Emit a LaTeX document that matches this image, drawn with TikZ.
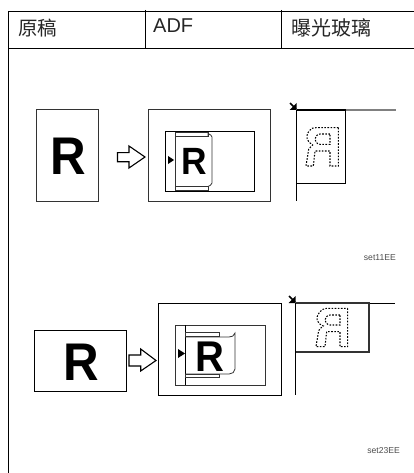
\documentclass[tikz,border=0pt]{standalone}
\usepackage{fontspec}
\setmainfont{Liberation Sans}
\newfontfamily\cjkfont{Noto Sans CJK SC}
\definecolor{linegray}{gray}{0.2}
\tikzset{
  tableline/.style={draw=black,line width=1pt},
  frame/.style={draw=linegray,line width=1pt},
  glass/.style={draw=black,line width=1pt},
  dots/.style={draw=black,line width=1.05pt,dash pattern=on 1.6pt off 1.5pt},
  head/.style={anchor=base west,inner sep=0pt,text=black!85},
  bigR/.style={anchor=base,inner sep=0pt,xscale=0.93,font=\fontsize{53}{53}\selectfont\bfseries},
  code/.style={anchor=base east,inner sep=0pt,text=black!70,font=\fontsize{8.6}{9}\selectfont}
}
\newcommand{\cornerarrow}[2]{%
  \fill[black] (#1-0.5,#2-7) -- (#1-0.5,#2) -- (#1-7.5,#2) -- cycle;
  \draw[black,line width=1.6pt] (#1-7,#2-7) -- (#1-1,#2-1);}
\begin{document}
\begin{tikzpicture}[x=1pt,y=-1pt]
\path[use as bounding box] (0,0) rectangle (414,473);
% table
\draw[tableline] (8,11.5) -- (414,11.5);
\draw[tableline] (8,48.5) -- (414,48.5);
\draw[tableline] (8,11) -- (8,473);
\draw[tableline] (145.5,10) -- (145.5,48.5);
\draw[tableline] (281.5,10) -- (281.5,48.5);
\node[head,font=\fontsize{19.5}{20}\cjkfont\selectfont] (h1) at (18,36) {原稿};
\node[head,font=\fontsize{20}{20}\selectfont] (h2) at (153,32.5) {ADF};
\node[head,font=\fontsize{20}{20}\cjkfont\selectfont] (h3) at (291,36) {曝光玻璃};
% upper row
\draw[frame] (36.5,110) rectangle (98,201.5);
\node[bigR] (r1) at (68,175) {R};
\draw[draw=black,line width=1.1pt,fill=white,line join=miter] (117.5,152.7) -- (129,152.7) -- (129,146) -- (145,157) -- (129,168) -- (129,161.7) -- (117.5,161.7) -- cycle;
\draw[frame] (148,110) rectangle (270,201.5);
\draw[frame,draw=black] (165.5,132) rectangle (254.5,191);
\draw[frame,line width=0.8pt] (175,132.7) rectangle (208,136.7);
\draw[frame,line width=0.8pt] (175,186.5) rectangle (208,190.7);
\draw[frame,line width=0.8pt] (175,132) -- (175,191);
\draw[frame,line width=0.8pt] (208,136.7) -- (208,133.5) .. controls (210,135) and (212,135) .. (212,137) -- (212,183) .. controls (212,185) and (209,186) .. (208,186.5);
\fill[black] (168,156) -- (174,160) -- (168,164) -- cycle;
\node[bigR,font=\fontsize{38}{38}\selectfont\bfseries] (r2) at (194,175) {R};
% upper glass
\draw[glass,line width=1.7pt] (296.5,110) -- (346,110);
\draw[frame,line width=1.7pt,draw=gray] (346,110) -- (396,110);
\draw[glass] (296.5,110) -- (296.5,201);
\draw[glass] (345.5,110) -- (345.5,183.5) -- (296.5,183.5);
\cornerarrow{297}{110}
\begin{scope}[shift={(270,90)},x=0.3333pt,y=-0.3333pt]
\draw[dots] (205,113) -- (205,228) -- (180,228) -- (180,183) -- (135,183) -- (130,228) -- (108,228) -- (116,178) .. controls (122,170) and (125,168) .. (128,165) .. controls (110,155) and (105,140) .. (118,122) .. controls (122,115) and (130,113) .. (138,113) -- cycle;
\draw[dots] (180,132) -- (150,132) .. controls (130,135) and (130,160) .. (150,163) -- (180,163) -- cycle;
\end{scope}
\node[code] (c1) at (396,260) {set11EE};
% lower row
\draw[frame,draw=black] (34,330) rectangle (126,391);
\node[bigR] (r3) at (81,380) {R};
\draw[draw=black,line width=1.1pt,fill=white,line join=miter] (129,355) -- (140.7,355) -- (140.7,349) -- (156,360.5) -- (140.7,371) -- (140.7,366) -- (129,366) -- cycle;
\draw[frame,draw=black] (158,303) rectangle (281,395.5);
\draw[frame] (175.7,325) rectangle (265,385);
\draw[glass] (185,325) -- (185,385);
\draw[frame,line width=0.8pt] (185,332.7) rectangle (219,336.7);
\draw[frame,line width=0.8pt] (185,374) rectangle (219,377.5);
\draw[frame,line width=0.8pt] (185,337) -- (229,337) .. controls (232,337) and (234,336) .. (235,333) -- (235,369) .. controls (235,372) and (232,374) .. (229,374) -- (185,374);
\fill[black] (178,349) -- (185,353.5) -- (178,358) -- cycle;
\node[bigR,font=\fontsize{43}{43}\selectfont\bfseries] (r4) at (210,371) {R};
% lower glass
\draw[glass] (295.5,303) -- (395,303);
\draw[glass] (295.5,303) -- (295.5,395);
\draw[frame,line width=1.2pt] (295.5,303) -- (369,303) -- (369,352) -- (295.5,352);
\cornerarrow{296}{303}
\begin{scope}[shift={(270,290)},x=0.3333pt,y=-0.3333pt]
\draw[dots] (233,55) -- (233,170) -- (210,170) -- (210,125) -- (170,125) -- (165,170) -- (138,170) -- (146,122) .. controls (150,115) and (155,112) .. (160,108) .. controls (140,100) and (135,85) .. (148,68) .. controls (152,60) and (160,55) .. (170,55) -- cycle;
\draw[dots] (210,75) -- (180,75) .. controls (160,78) and (160,102) .. (180,105) -- (210,105) -- cycle;
\end{scope}
\node[code] (c2) at (400,453) {set23EE};
\end{tikzpicture}
\end{document}
